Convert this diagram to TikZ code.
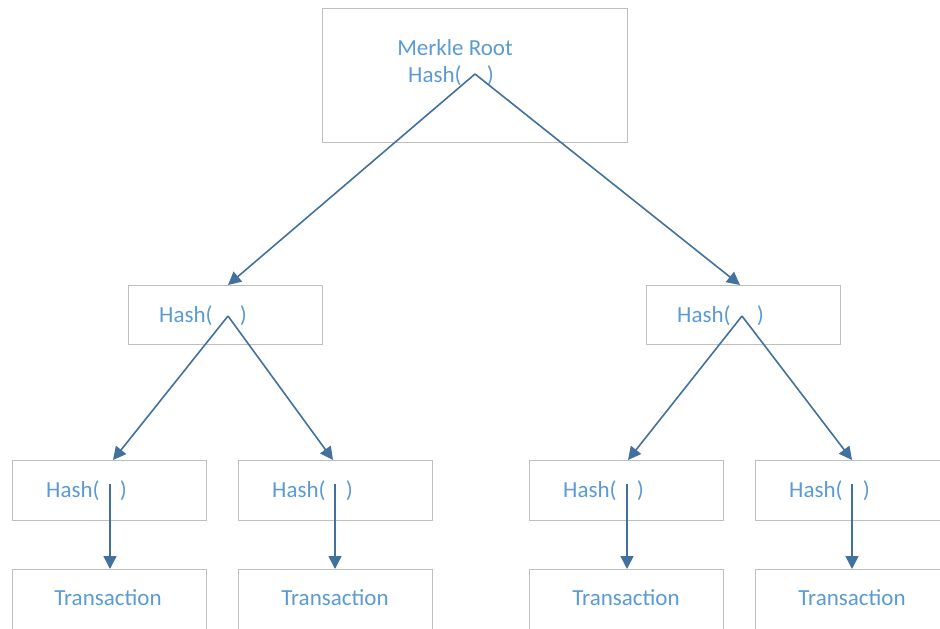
\documentclass[tikz,border=0pt]{standalone}
\usepackage{fontspec}
\setmainfont{Carlito}
\usetikzlibrary{arrows.meta}
\definecolor{boxline}{HTML}{BFBFBF}
\definecolor{txt}{HTML}{5B9BD5}
\definecolor{link}{HTML}{41719C}
\tikzset{
  box/.style={draw=boxline, line width=1.2pt, fill=white, anchor=north west, inner sep=0pt},
  lbl/.style={text=txt, font=\fontsize{23}{26}\selectfont, inner sep=0pt, anchor=base west},
  rpar/.style={lbl, anchor=base east},
  link/.style={draw=link, line width=1.6pt, -{Triangle[length=13pt,width=13pt]}},
}
\begin{document}
\begin{tikzpicture}[x=1pt,y=-1pt]
\useasboundingbox (0,0) rectangle (940,629);
% boxes
\node[box, minimum width=305pt, minimum height=134pt] (root) at (322,8) {};
\node[box, minimum width=194pt, minimum height=59pt] (ml) at (128,285) {};
\node[box, minimum width=194pt, minimum height=59pt] (mr) at (646,285) {};
\node[box, minimum width=194pt, minimum height=60pt] (l1) at (12,460) {};
\node[box, minimum width=194pt, minimum height=60pt] (l2) at (238,460) {};
\node[box, minimum width=194pt, minimum height=60pt] (l3) at (529,460) {};
\node[box, minimum width=194pt, minimum height=60pt] (l4) at (755,460) {};
\node[box, minimum width=194pt, minimum height=70pt] (t1) at (12,569) {};
\node[box, minimum width=194pt, minimum height=70pt] (t2) at (238,569) {};
\node[box, minimum width=194pt, minimum height=70pt] (t3) at (529,569) {};
\node[box, minimum width=194pt, minimum height=70pt] (t4) at (755,569) {};
% labels
\node[lbl, anchor=base] (rootA) at (455,55) {Merkle Root};
\node[lbl] (rootB) at (408,82) {Hash(};
\node[rpar] (rootC) at (494,82) {)};
\node[lbl] (mlA) at (159,322) {Hash(};
\node[rpar] (mlC) at (247,322) {)};
\node[lbl] (mrA) at (677,322) {Hash(};
\node[rpar] (mrC) at (764,322) {)};
\node[lbl] (l1A) at (46,497) {Hash(};
\node[rpar] (l1C) at (127,497) {)};
\node[lbl] (l2A) at (272,497) {Hash(};
\node[rpar] (l2C) at (353,497) {)};
\node[lbl] (l3A) at (563,497) {Hash(};
\node[rpar] (l3C) at (644,497) {)};
\node[lbl] (l4A) at (789,497) {Hash(};
\node[rpar] (l4C) at (870,497) {)};
\node[lbl, anchor=base] (t1A) at (108,605) {Transaction};
\node[lbl, anchor=base] (t2A) at (335,605) {Transaction};
\node[lbl, anchor=base] (t3A) at (626,605) {Transaction};
\node[lbl, anchor=base] (t4A) at (852,605) {Transaction};
% link start points
\coordinate (pr) at (475,74);
\coordinate (pl) at (228,316);
\coordinate (pm) at (742,316);
\coordinate (q1) at (110,484);
\coordinate (q2) at (335,484);
\coordinate (q3) at (627,484);
\coordinate (q4) at (852,484);
% link end points on the box tops
\coordinate (ml-in) at (228,285);
\coordinate (mr-in) at (740,285);
\coordinate (l1-in) at (113,460);
\coordinate (l2-in) at (333,460);
\coordinate (l3-in) at (628,460);
\coordinate (l4-in) at (852,460);
\coordinate (t1-in) at (110,569);
\coordinate (t2-in) at (335,569);
\coordinate (t3-in) at (627,569);
\coordinate (t4-in) at (852,569);
% links
\draw[link] (pr) -- (ml-in);
\draw[link] (pr) -- (mr-in);
\draw[link] (pl) -- (l1-in);
\draw[link] (pl) -- (l2-in);
\draw[link] (pm) -- (l3-in);
\draw[link] (pm) -- (l4-in);
\draw[link] (q1) -- (t1-in);
\draw[link] (q2) -- (t2-in);
\draw[link] (q3) -- (t3-in);
\draw[link] (q4) -- (t4-in);
\end{tikzpicture}
\end{document}
